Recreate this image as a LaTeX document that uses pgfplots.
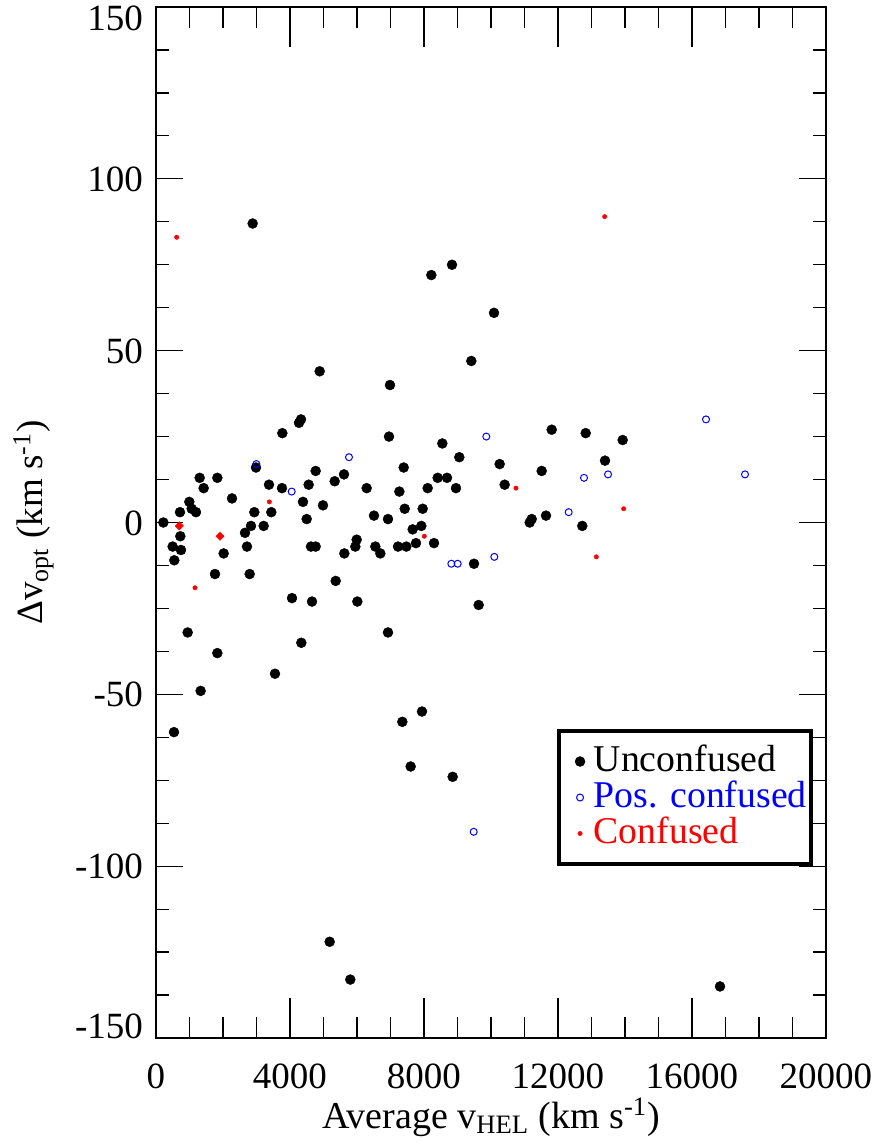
\documentclass[border=0pt]{standalone}
\usepackage{pgfplots}
\pgfplotsset{compat=1.18}
\usepackage{fontspec}
\setmainfont{LiberationSerif}[Extension=.ttf, UprightFont=*-Regular, BoldFont=*-Bold, ItalicFont=*-Italic, BoldItalicFont=*-BoldItalic]
\begin{document}
\begin{tikzpicture}
\pgfplotsset{
  base/.style={
    scale only axis, width=335pt, height=515.5pt,
    xmin=0, xmax=20000, ymin=-150, ymax=150,
    axis line style={line width=0.9pt},
    every tick/.style={line width=0.6pt, black},
    tick align=inside,
    scaled x ticks=false, scaled y ticks=false,
    xtick={0,4000,8000,12000,16000,20000}, minor x tick num=3,
    at={(0,0)}, anchor=south west,
  }
}
\begin{axis}[base,
  major tick length=13.3pt, minor tick length=6.7pt,
  xticklabels={0,4000,8000,12000,16000,20000},
  ytick={-150,-100,-50,0,50,100,150}, minor y tick num=3,
  yticklabels={{\raisebox{6.25pt}{-150}},-100,-50,0,50,100,{\raisebox{-5.6pt}{150}}},
  /pgf/number format/assume math mode=true,
  ticklabel style={font=\fontsize{18.5}{20}\selectfont},
  xticklabel style={anchor=base, yshift=-25pt},
  yticklabel style={anchor=base east, inner sep=0pt, xshift=-6.35pt, yshift=-6.25pt},
  xlabel={Average v\textsubscript{HEL} (km s\textsuperscript{-1})},
  ylabel={Δv\textsubscript{opt} (km s\textsuperscript{-1})},
  every axis x label/.style={at={(axis description cs:0.5,-0.0873)}, anchor=base, font=\fontsize{19}{21}\selectfont},
  every axis y label/.style={at={(axis description cs:-0.1687,0.5)}, anchor=base, rotate=90, font=\fontsize{18.5}{21}\selectfont},
  legend cell align=left,
  legend image code/.code={\path[draw=none] (-0.3cm,-0.1cm) rectangle (0.1cm,0.1cm);
     \draw[mark repeat=2,mark phase=2,#1] plot coordinates {(-0.1cm,0cm) (0cm,0cm) (0.1cm,0cm)};},
  legend style={at={(0.5985,0.2997)}, anchor=north west, draw=black, line width=2pt,
     inner xsep=2pt, inner ysep=6.25pt, row sep=0pt, column sep=4pt,
     font=\fontsize{18.9}{20}\selectfont,
     nodes={inner xsep=0pt, inner ysep=2pt, text height=12pt, text depth=2pt}},
]
\addplot[only marks, mark=*, mark size=2.5pt, mark options={black, fill=black, line width=0.2pt}] table {
x y
220 0
716 3
726 -4
497 -7
746 -8
547 -11
995 6
1065 4
1194 3
1304 13
1423 10
1831 13
2020 -9
1761 -15
945 -32
2269 7
2985 16
3373 11
2935 3
3442 3
2836 -1
3214 -1
2657 -3
2716 -7
2796 -15
3771 26
4269 29
4328 30
3761 10
4557 11
4766 15
4388 6
4985 5
4498 1
4627 -7
4766 -7
5334 12
5612 14
5622 -9
5364 -17
4060 -22
4657 -23
4338 -35
6955 25
6289 10
7394 16
7264 9
8547 23
9054 19
10259 17
10408 11
8408 13
8687 13
8110 10
8955 10
7424 4
7961 4
6507 2
6925 1
7662 -2
7920 -1
5990 -5
5950 -7
6547 -7
6696 -9
7224 -7
7473 -7
7761 -6
8299 -6
9493 -12
6010 -23
9632 -24
6925 -32
11812 27
12827 26
13931 24
13403 18
11513 15
11642 2
11215 1
11155 0
12725 -1
2886 87
8219 72
8836 75
10090 61
9413 47
4886 44
6985 40
1831 -38
1333 -49
537 -61
3552 -44
7353 -58
7940 -55
7602 -71
8856 -74
5184 -122
5800 -133
16836 -135
};
\addplot[only marks, mark=o, mark size=1.75pt, mark options={blue, line width=0.5pt}] table {
x y
2995 17
4050 9
5761 19
9860 25
8816 -12
9005 -12
10099 -10
12776 13
13493 14
12319 3
9483 -90
16418 30
17582 14
};
\addplot[only marks, mark=*, mark size=1.1pt, mark options={red, fill=red, line width=0.2pt}] table {
x y
1164 -19
3383 6
10746 10
8009 -4
13961 4
13144 -10
617 83
13393 89
};
\addplot[only marks, forget plot, mark=square*, mark size=1.47pt, mark options={red, fill=red, rotate=45, line width=0.2pt}] table {
x y
696 -1
1910 -4
};
\legend{{\textcolor{black}{Unconfused}},{\textcolor{blue}{Pos. confused}},{\textcolor{red}{Confused}}}
\end{axis}
\begin{axis}[base,
  major tick length=20pt, minor tick length=10.5pt,
  xticklabels={}, ytick=\empty,
]
\end{axis}
\pgfresetboundingbox
\useasboundingbox (-78pt,-52pt) rectangle (361pt,519pt);
\end{tikzpicture}
\end{document}
